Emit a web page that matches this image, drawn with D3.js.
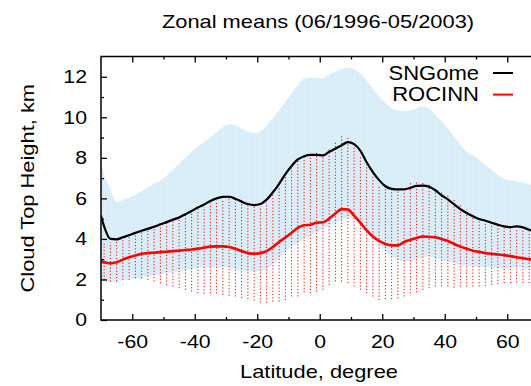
<!DOCTYPE html>
<html>
<head>
<meta charset="utf-8">
<script src="https://cdn.jsdelivr.net/npm/d3@7"></script>
<style>
  html, body { margin: 0; padding: 0; background: #fff; overflow: hidden; }
  svg { display: block; }
  text { font-family: "Liberation Sans", Arial, Helvetica, sans-serif; fill: #000; }
</style>
</head>
<body>
<svg id="chart" width="531" height="386"></svg>
<script>
// Zonal mean cloud top height (km) by latitude, SNGome vs ROCINN
const lats = [-70, -69, -67, -65, -63, -61, -59, -57, -55, -53, -51, -49, -47, -45, -43, -41, -39, -37, -35, -33, -31,
  -29, -27, -25, -23, -21, -19, -17, -15, -13, -11, -9, -7, -5, -3, -1, 1, 3, 5, 7, 9, 11, 13, 15, 17, 19, 21,
  23, 25, 27, 29, 31, 33, 35, 37, 39, 41, 43, 45, 47, 49, 51, 53, 55, 57, 59, 61, 63, 65, 67, 69];

// SNGome mean
const sngMean = [5.15, 4.62, 4.0, 3.98, 4.08, 4.18, 4.3, 4.4, 4.5, 4.6, 4.72, 4.83, 4.95, 5.06, 5.22, 5.38, 5.55, 5.7,
  5.87, 6.0, 6.07, 6.08, 5.98, 5.84, 5.72, 5.67, 5.72, 5.94, 6.3, 6.72, 7.2, 7.6, 7.92, 8.08, 8.15, 8.15, 8.12, 8.3,
  8.45, 8.62, 8.78, 8.68, 8.35, 7.78, 7.3, 6.9, 6.6, 6.47, 6.44, 6.45, 6.52, 6.62, 6.63, 6.57, 6.4, 6.15, 5.95, 5.7,
  5.47, 5.28, 5.12, 4.98, 4.9, 4.8, 4.7, 4.62, 4.58, 4.62, 4.57, 4.45, 4.35];

// SNGome spread (lower / upper edge of the shaded band)
const sngLow = [1.92, 1.9, 1.87, 1.88, 1.95, 2.0, 2.05, 2.1, 2.15, 2.2, 2.25, 2.3, 2.35, 2.4, 2.45, 2.5, 2.55, 2.58,
  2.6, 2.6, 2.6, 2.58, 2.5, 2.42, 2.39, 2.39, 2.42, 2.52, 2.75, 3.05, 3.35, 3.62, 3.8, 4.0, 4.15, 4.35, 4.5, 4.65,
  4.8, 4.95, 5.02, 4.98, 4.7, 4.35, 4.0, 3.7, 3.4, 3.15, 2.95, 2.9, 2.92, 3.0, 3.1, 3.15, 3.05, 2.95, 2.88, 2.8,
  2.72, 2.67, 2.64, 2.62, 2.6, 2.58, 2.54, 2.52, 2.55, 2.6, 2.58, 2.52, 2.5];
const sngHigh = [7.75, 7.2, 6.45, 5.82, 5.92, 6.03, 6.18, 6.35, 6.55, 6.72, 6.9, 7.12, 7.4, 7.7, 8.0, 8.3, 8.55, 8.78,
  9.0, 9.25, 9.52, 9.64, 9.6, 9.44, 9.3, 9.22, 9.3, 9.6, 9.95, 10.35, 10.75, 11.2, 11.6, 11.92, 11.96, 11.94, 11.92,
  12.1, 12.25, 12.38, 12.45, 12.38, 12.15, 11.8, 11.4, 11.02, 10.7, 10.45, 10.33, 10.3, 10.33, 10.45, 10.55, 10.42,
  10.12, 9.8, 9.45, 9.05, 8.65, 8.3, 8.1, 7.92, 7.65, 7.4, 7.15, 6.95, 6.9, 6.85, 6.8, 6.7, 6.6];

// ROCINN mean
const rocMean = [2.87, 2.85, 2.8, 2.85, 2.98, 3.1, 3.18, 3.27, 3.3, 3.32, 3.35, 3.37, 3.4, 3.42, 3.45, 3.48, 3.52,
  3.57, 3.62, 3.63, 3.63, 3.6, 3.52, 3.4, 3.3, 3.27, 3.3, 3.4, 3.6, 3.85, 4.07, 4.3, 4.55, 4.67, 4.7, 4.8, 4.82, 5.0,
  5.25, 5.47, 5.45, 5.15, 4.8, 4.42, 4.12, 3.9, 3.75, 3.68, 3.68, 3.85, 3.95, 4.05, 4.12, 4.1, 4.08, 4.0, 3.9, 3.75,
  3.62, 3.52, 3.42, 3.36, 3.3, 3.27, 3.23, 3.2, 3.15, 3.1, 3.05, 3.0, 2.97];

// ROCINN spread (error bars)
const rocMin = [null, 1.98, 1.9, 1.9, 1.98, 1.98, 2.06, 2.06, 1.98, 1.9, 1.82, 1.73, 1.65, 1.57, 1.49, 1.4, 1.32, 1.3,
  1.32, 1.3, 1.24, 1.2, 1.16, 1.08, 1.03, 0.96, 0.86, 0.86, 0.91, 0.91, 0.99, 1.16, 1.16, 1.36, 1.32, 1.4, 1.49,
  1.73, 1.9, 1.9, 1.82, 1.65, 1.49, 1.32, 1.16, 0.99, 1.03, 1.03, 1.07, 1.16, 1.32, 1.36, 1.49, 1.57, 1.65, 1.65,
  1.65, 1.6, 1.65, 1.65, 1.65, 1.65, 1.68, 1.73, 1.77, 1.82, 1.82, 1.85, 1.82, 1.82, 1.82];
const rocMax = [null, 3.85, 3.83, 3.96, 4.04, 4.2, 4.32, 4.42, 4.57, 4.65, 4.75, 4.87, 5.03, 5.15, 5.25, 5.36, 5.45,
  5.58, 5.78, 5.89, 5.97, 6.02, 5.97, 5.86, 5.78, 5.69, 5.61, 5.78, 6.19, 6.6, 7.06, 7.5, 7.92, 8.05, 8.12, 8.25,
  8.17, 8.42, 8.83, 9.11, 9.04, 8.58, 8.09, 7.67, 7.18, 6.68, 6.52, 6.44, 6.35, 6.44, 6.77, 6.85, 6.85, 6.77, 6.52,
  6.35, 6.19, 5.94, 5.69, 5.45, 5.25, 5.03, 4.95, 4.82, 4.7, 4.59, 4.54, 4.52, 4.49, 4.37, 4.3];

const xMajor = [-60, -40, -20, 0, 20, 40, 60];
const xMinor = [-50, -30, -10, 10, 30, 50];
const yMajor = [0, 2, 4, 6, 8, 10, 12];
const yMinor = [1, 3, 5, 7, 9, 11];

const seriesNames = ["SNGome", "ROCINN"];
const titleText = "Zonal means (06/1996-05/2003)";
const xTitle = "Latitude, degree";
const yTitle = "Cloud Top Height, km";

const svg = d3.select("#chart");
const plotLeft = 101, plotRight = 538.5, plotTop = 56.5, plotBottom = 320;

const x = d3.scaleLinear().domain([-70, 70]).range([plotLeft, plotRight]);
const y = d3.scaleLinear().domain([0, 13]).range([plotBottom, plotTop]);

// widen glyphs a little: the typeface here runs broader than Arial
function widen(sel, k) {
  sel.each(function () {
    const w = this.getComputedTextLength();
    this.setAttribute("textLength", (w * k).toFixed(1));
    this.setAttribute("lengthAdjust", "spacingAndGlyphs");
  });
}

const rows = lats.map((lat, i) => ({
  lat, sMean: sngMean[i], sLow: sngLow[i], sHigh: sngHigh[i],
  rMean: rocMean[i], rMin: rocMin[i], rMax: rocMax[i]
}));

svg.append("defs").append("clipPath").attr("id", "plotClip")
  .append("rect").attr("x", plotLeft).attr("y", plotTop)
  .attr("width", plotRight - plotLeft).attr("height", plotBottom - plotTop);

const plot = svg.append("g").attr("clip-path", "url(#plotClip)");

const curve = d3.curveMonotoneX;

// shaded SNGome band
plot.append("path")
  .datum(rows)
  .attr("fill", "#d8edf8")
  .attr("d", d3.area().curve(curve).x(d => x(d.lat)).y0(d => y(d.sLow)).y1(d => y(d.sHigh)));

// faint seams in the band fill
plot.append("g").selectAll("line")
  .data(rows.slice(1))
  .join("line")
  .attr("x1", d => x(d.lat) + 0.5).attr("x2", d => x(d.lat) + 0.5)
  .attr("y1", d => y(d.sLow)).attr("y2", d => y(d.sHigh))
  .attr("stroke", "#ffffff").attr("stroke-opacity", 0.18).attr("stroke-width", 1);

// ROCINN spread as dotted vertical bars
plot.append("g").selectAll("line")
  .data(rows.filter(d => d.rMin != null))
  .join("line")
  .attr("x1", d => x(d.lat)).attr("x2", d => x(d.lat))
  .attr("y1", d => y(d.rMin)).attr("y2", d => y(d.rMax))
  .attr("stroke", "#ff0000").attr("stroke-width", 1)
  .attr("stroke-dasharray", "1.2,2");

// ROCINN mean line
plot.append("path")
  .datum(rows)
  .attr("fill", "none").attr("stroke", "#ff0000").attr("stroke-width", 2.6)
  .attr("stroke-linejoin", "round")
  .attr("d", d3.line().curve(curve).x(d => x(d.lat)).y(d => y(d.rMean)));

// SNGome mean line
plot.append("path")
  .datum(rows)
  .attr("fill", "none").attr("stroke", "#000000").attr("stroke-width", 2.2)
  .attr("stroke-linejoin", "round")
  .attr("d", d3.line().curve(curve).x(d => x(d.lat)).y(d => y(d.sMean)));

// axes
const fmt = d => String(d);
const styleAxis = g => {
  g.select(".domain").remove();
  g.selectAll(".tick line").attr("stroke", "#000").attr("stroke-width", 1.3);
  g.selectAll(".tick text").attr("font-size", 18.5)
    .attr("font-family", "'Liberation Sans', Arial, sans-serif").attr("fill", "#000");
};

svg.append("g").attr("transform", `translate(0,${plotBottom})`)
  .call(d3.axisBottom(x).tickValues(xMajor).tickFormat(fmt).tickSize(-6).tickPadding(15))
  .call(styleAxis).call(g => widen(g.selectAll(".tick text"), 1.15));
svg.append("g").attr("transform", `translate(0,${plotBottom})`)
  .call(d3.axisBottom(x).tickValues(xMinor).tickFormat("").tickSize(-3)).call(styleAxis);
svg.append("g").attr("transform", `translate(0,${plotTop})`)
  .call(d3.axisTop(x).tickValues(xMajor).tickFormat("").tickSize(-6)).call(styleAxis);
svg.append("g").attr("transform", `translate(0,${plotTop})`)
  .call(d3.axisTop(x).tickValues(xMinor).tickFormat("").tickSize(-3)).call(styleAxis);

svg.append("g").attr("transform", `translate(${plotLeft},0)`)
  .call(d3.axisLeft(y).tickValues(yMajor).tickFormat(fmt).tickSize(-6).tickPadding(14))
  .call(styleAxis).call(g => widen(g.selectAll(".tick text"), 1.15));
svg.append("g").attr("transform", `translate(${plotLeft},0)`)
  .call(d3.axisLeft(y).tickValues(yMinor).tickFormat("").tickSize(-3)).call(styleAxis);
svg.append("g").attr("transform", `translate(${plotRight},0)`)
  .call(d3.axisRight(y).tickValues(yMajor).tickFormat("").tickSize(-6)).call(styleAxis);

// frame
svg.append("rect")
  .attr("x", plotLeft).attr("y", plotTop)
  .attr("width", plotRight - plotLeft).attr("height", plotBottom - plotTop)
  .attr("fill", "none").attr("stroke", "#000").attr("stroke-width", 1.5);

// titles
svg.append("text").attr("x", 318).attr("y", 28).attr("text-anchor", "middle")
  .attr("font-size", 19).text(titleText).call(t => widen(t, 1.15));
svg.append("text").attr("x", 319).attr("y", 378).attr("text-anchor", "middle")
  .attr("font-size", 19).text(xTitle).call(t => widen(t, 1.15));
svg.append("text").attr("transform", `translate(34,${(plotTop + plotBottom) / 2}) rotate(-90)`)
  .attr("text-anchor", "middle").attr("font-size", 19).text(yTitle).call(t => widen(t, 1.15));

// legend
const legend = svg.append("g");
const legendColors = ["#000000", "#ff0000"];
seriesNames.forEach((name, i) => {
  const yy = 73 + i * 21.6;
  legend.append("text").attr("x", 479).attr("y", yy + 6.5).attr("text-anchor", "end")
    .attr("font-size", 20).text(name).call(t => widen(t, 1.1));
  legend.append("line").attr("x1", 493).attr("x2", 513).attr("y1", yy).attr("y2", yy)
    .attr("stroke", legendColors[i]).attr("stroke-width", 2);
});
</script>
</body>
</html>
